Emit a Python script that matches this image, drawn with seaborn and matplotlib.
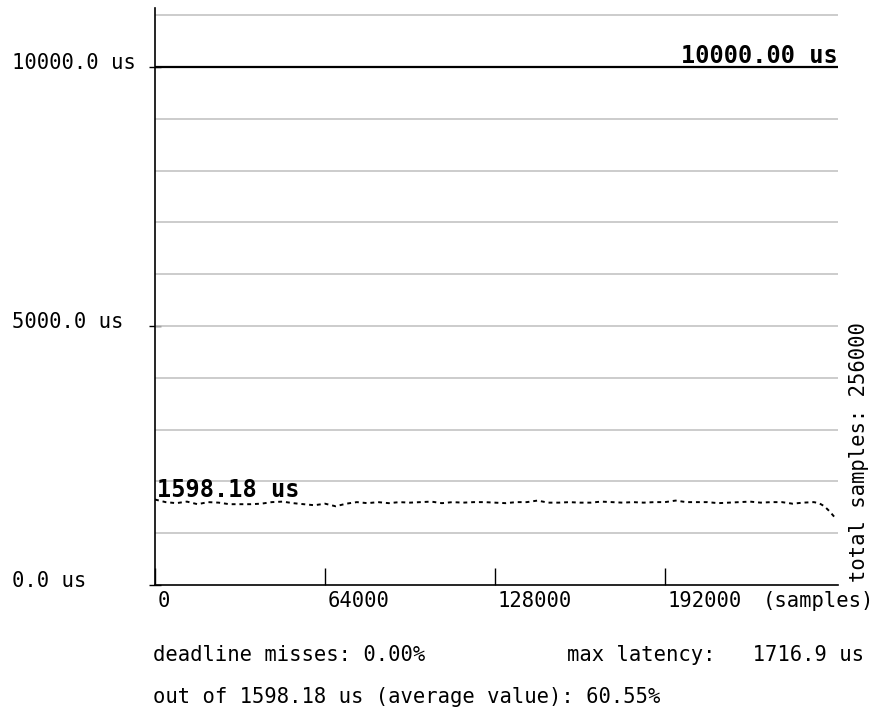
import matplotlib
matplotlib.use("Agg")
import matplotlib.pyplot as plt
import matplotlib.transforms as mtransforms
import numpy as np
import pandas as pd
import seaborn as sns

# ---- data ----
samples = [0, 4000, 8000, 12000, 16000, 20000, 24000, 28000, 32000, 36000, 40000,
           44000, 48000, 52000, 56000, 60000, 64000, 68000, 72000, 76000, 80000,
           84000, 88000, 92000, 96000, 100000, 104000, 108000, 112000, 116000, 120000,
           124000, 128000, 132000, 136000, 140000, 144000, 148000, 152000, 156000, 160000,
           164000, 168000, 172000, 176000, 180000, 184000, 188000, 192000, 196000, 200000,
           204000, 208000, 212000, 216000, 220000, 224000, 228000, 232000, 236000, 240000,
           244000, 248000, 250000, 252000, 254000, 256000]
latency = [1650, 1600, 1580, 1610, 1560, 1600, 1590, 1560, 1560, 1560, 1570,
           1600, 1610, 1580, 1560, 1540, 1570, 1520, 1570, 1600, 1580,
           1600, 1580, 1600, 1590, 1600, 1610, 1580, 1600, 1590, 1600,
           1600, 1590, 1580, 1600, 1600, 1630, 1590, 1590, 1600, 1590,
           1590, 1610, 1600, 1590, 1600, 1590, 1600, 1600, 1630, 1600,
           1600, 1600, 1580, 1590, 1600, 1610, 1590, 1600, 1600, 1570,
           1590, 1600, 1580, 1520, 1420, 1300]
deadline = 10000.0
average = 1598.18
total_samples = 256000
x_ticks = [0, 64000, 128000, 192000]
y_label_values = [0.0, 5000.0, 10000.0]
grid_values = [1000, 2000, 3000, 4000, 5000, 6000, 7000, 8000, 9000, 11000]
deadline_misses = "0.00%"
max_latency = "1716.9 us"
avg_ratio = "60.55%"

df = pd.DataFrame({"samples": samples, "latency": latency})

sns.set_theme(style="white")
plt.rcParams["font.family"] = ["DejaVu Sans Mono", "DejaVu Sans"]
plt.rcParams["text.color"] = "black"

FS = 14.8

fig = plt.figure(figsize=(8.76, 7.21), dpi=100)
ax = fig.add_axes([155 / 876, (721 - 585) / 721, (838 - 155) / 876, (585 - 8) / 721])

ax.set_xlim(0, 257130)
ax.set_ylim(0, 11140)

for g in grid_values:
    ax.axhline(g, color="#c4c4c4", lw=1.2, zorder=1)
ax.axhline(deadline, color="black", lw=1.6, zorder=2)

sns.lineplot(data=df, x="samples", y="latency", ax=ax, color="black",
             lw=1.4, linestyle=(0, (2.0, 2.0)), zorder=3)

for s in ["top", "right"]:
    ax.spines[s].set_visible(False)
for s in ["left", "bottom"]:
    ax.spines[s].set_color("black")
    ax.spines[s].set_linewidth(1.2)

ax.set_xlabel("")
ax.set_ylabel("")
ax.set_yticks(y_label_values)
ax.set_yticklabels([])
ax.tick_params(axis="y", direction="inout", length=8, width=1, color="black", left=True)
ax.set_xticks(x_ticks)
ax.set_xticklabels([])
ax.tick_params(axis="x", direction="in", length=12, width=1, color="black", bottom=True)

# x tick labels, left aligned just right of ticks
for t in x_ticks:
    ax.annotate(f"{t}", xy=(t, 0), xycoords="data", xytext=(2, -4),
                textcoords="offset points", ha="left", va="top", fontsize=FS)
xt = mtransforms.blended_transform_factory(fig.transFigure, ax.transData)
ax.annotate("(samples)", xy=(763 / 876, 0), xycoords=xt,
            xytext=(0, -4), textcoords="offset points", ha="left", va="top",
            fontsize=FS, annotation_clip=False)

# y labels at the left of the figure
for v in y_label_values:
    ax.text(12 / 876, v + 80, f"{v:.1f} us", transform=xt, ha="left",
            va="center", fontsize=FS)

# bold value labels
ax.annotate(f"{deadline:.2f} us", xy=(1.0, deadline), xycoords=ax.get_yaxis_transform(),
            xytext=(0, 3), textcoords="offset points",
            ha="right", va="baseline", fontsize=17, fontweight="bold")
ax.annotate(f"{average:.2f} us", xy=(0.003, average), xycoords=ax.get_yaxis_transform(),
            xytext=(0, 4), textcoords="offset points",
            ha="left", va="baseline", fontsize=17, fontweight="bold")

# right rotated text
fig.text(859 / 876, 1 - 452 / 721, f"total samples: {total_samples}", rotation=90,
         ha="center", va="center", fontsize=FS)

# bottom texts
fig.text(153 / 876, 1 - 655 / 721, f"deadline misses: {deadline_misses}",
         ha="left", va="center", fontsize=FS)
fig.text(567 / 876, 1 - 655 / 721, f"max latency:   {max_latency}",
         ha="left", va="center", fontsize=FS)
fig.text(153 / 876, 1 - 697 / 721, f"out of {average:.2f} us (average value): {avg_ratio}",
         ha="left", va="center", fontsize=FS)

fig.savefig("out.png", dpi=100)
